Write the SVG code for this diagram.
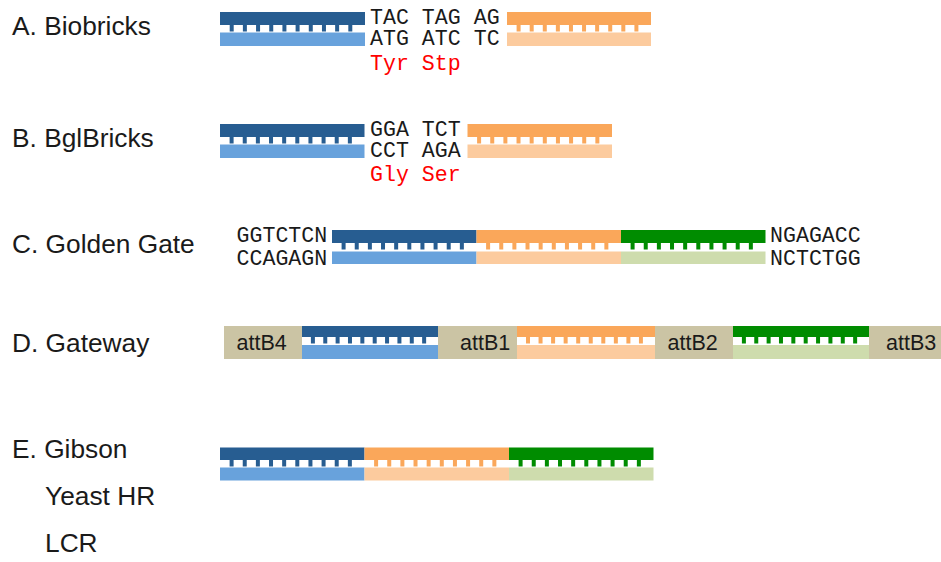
<svg xmlns="http://www.w3.org/2000/svg" width="941" height="562" viewBox="0 0 941 562">
  <style>
    .label { font-family: "Liberation Sans", Arial, Helvetica, sans-serif; font-size: 26.3px; fill: #1a1a1a; }
    .seq { font-family: "Liberation Mono", "Courier New", monospace; font-size: 21.6px; fill: #1a1a1a; }
    .aa { font-family: "Liberation Mono", "Courier New", monospace; font-size: 21.6px; fill: #ff0000; }
    .att { font-family: "Liberation Sans", Arial, Helvetica, sans-serif; font-size: 21.5px; fill: #1a1a1a; }
    .blue-top { fill: #275d91; }
    .blue-bot { fill: #68a2dc; }
    .orange-top { fill: #faa75a; }
    .orange-bot { fill: #fccb9e; }
    .green-top { fill: #008c00; }
    .green-bot { fill: #cedcad; }
    .site { fill: #cbc4a4; }
    .t-blue { stroke: #275d91; fill: none; stroke-width: 6.5px; }
    .t-orange { stroke: #faa75a; fill: none; stroke-width: 6.5px; }
    .t-green { stroke: #008c00; fill: none; stroke-width: 6.5px; }
  </style>

  <!-- Row labels -->
  <g id="labels">
    <text class="label" x="12" y="35">A. Biobricks</text>
    <text class="label" x="12" y="147">B. BglBricks</text>
    <text class="label" x="12" y="253">C. Golden Gate</text>
    <text class="label" x="12" y="352">D. Gateway</text>
    <text class="label" x="12" y="458">E. Gibson</text>
    <text class="label" x="45" y="505">Yeast HR</text>
    <text class="label" x="45" y="552">LCR</text>
  </g>

  <!-- A. BioBrick scar between two parts -->
  <g id="biobricks">
    <g id="a-part1">
      <rect class="blue-top" x="220" y="12" width="145" height="13"/>
      <line class="t-blue" x1="229.7" y1="28.2" x2="352.3" y2="28.2" stroke-dasharray="4 9.18"/>
      <rect class="blue-bot" x="220" y="32.5" width="145" height="13.5"/>
    </g>
    <g id="a-scar">
      <text class="seq" x="370" y="23.5">TAC TAG AG</text>
      <text class="seq" x="370" y="44.5">ATG ATC TC</text>
      <text class="aa" x="370" y="70">Tyr Stp</text>
    </g>
    <g id="a-part2">
      <rect class="orange-top" x="507" y="12" width="144" height="13"/>
      <line class="t-orange" x1="516.6" y1="28.2" x2="638.4" y2="28.2" stroke-dasharray="4 9.09"/>
      <rect class="orange-bot" x="507" y="32.5" width="144" height="13.5"/>
    </g>
  </g>

  <!-- B. BglBrick scar -->
  <g id="bglbricks">
    <g id="b-part1">
      <rect class="blue-top" x="220" y="124" width="144.5" height="13"/>
      <line class="t-blue" x1="229.6" y1="140.2" x2="351.9" y2="140.2" stroke-dasharray="4 9.14"/>
      <rect class="blue-bot" x="220" y="144.5" width="144.5" height="13.5"/>
    </g>
    <g id="b-scar">
      <text class="seq" x="370" y="135.5">GGA TCT</text>
      <text class="seq" x="370" y="157">CCT AGA</text>
      <text class="aa" x="370" y="181">Gly Ser</text>
    </g>
    <g id="b-part2">
      <rect class="orange-top" x="467.5" y="124" width="144.5" height="13"/>
      <line class="t-orange" x1="477.1" y1="140.2" x2="599.4" y2="140.2" stroke-dasharray="4 9.14"/>
      <rect class="orange-bot" x="467.5" y="144.5" width="144.5" height="13.5"/>
    </g>
  </g>

  <!-- C. Golden Gate assembly with flanking BsaI sites -->
  <g id="golden-gate">
    <g id="c-site-left">
      <text class="seq" x="236.5" y="242">GGTCTCN</text>
      <text class="seq" x="236.5" y="265">CCAGAGN</text>
    </g>
    <g id="c-part1">
      <rect class="blue-top" x="332" y="230" width="144.5" height="13"/>
      <line class="t-blue" x1="341.6" y1="246.2" x2="463.9" y2="246.2" stroke-dasharray="4 9.14"/>
      <rect class="blue-bot" x="332" y="251.5" width="144.5" height="12.5"/>
    </g>
    <g id="c-part2">
      <rect class="orange-top" x="476.5" y="230" width="144.5" height="13"/>
      <line class="t-orange" x1="486.1" y1="246.2" x2="608.4" y2="246.2" stroke-dasharray="4 9.14"/>
      <rect class="orange-bot" x="476.5" y="251.5" width="144.5" height="12.5"/>
    </g>
    <g id="c-part3">
      <rect class="green-top" x="621" y="230" width="144.5" height="13"/>
      <line class="t-green" x1="630.6" y1="246.2" x2="752.9" y2="246.2" stroke-dasharray="4 9.14"/>
      <rect class="green-bot" x="621" y="251.5" width="144.5" height="12.5"/>
    </g>
    <g id="c-site-right">
      <text class="seq" x="770" y="242">NGAGACC</text>
      <text class="seq" x="770" y="265">NCTCTGG</text>
    </g>
  </g>

  <!-- D. Gateway: parts separated by attB sites -->
  <g id="gateway">
    <g id="d-attB4">
      <rect class="site" x="224" y="326" width="78" height="33"/>
      <text class="att" x="236.5" y="350">attB4</text>
    </g>
    <g id="d-part1">
      <rect class="blue-top" x="302" y="326" width="136" height="11"/>
      <line class="t-blue" x1="310.9" y1="340.2" x2="426.2" y2="340.2" stroke-dasharray="4 8.36"/>
      <rect class="blue-bot" x="302" y="345" width="136" height="14"/>
    </g>
    <g id="d-attB1">
      <rect class="site" x="438" y="326" width="79" height="33"/>
      <text class="att" x="460" y="350">attB1</text>
    </g>
    <g id="d-part2">
      <rect class="orange-top" x="517" y="326" width="138" height="11"/>
      <line class="t-orange" x1="526" y1="340.2" x2="642.9" y2="340.2" stroke-dasharray="4 8.55"/>
      <rect class="orange-bot" x="517" y="345" width="138" height="14"/>
    </g>
    <g id="d-attB2">
      <rect class="site" x="655" y="326" width="78" height="33"/>
      <text class="att" x="667.5" y="350">attB2</text>
    </g>
    <g id="d-part3">
      <rect class="green-top" x="733" y="326" width="136" height="11"/>
      <line class="t-green" x1="741.9" y1="340.2" x2="857.2" y2="340.2" stroke-dasharray="4 8.36"/>
      <rect class="green-bot" x="733" y="345" width="136" height="14"/>
    </g>
    <g id="d-attB3">
      <rect class="site" x="869" y="326" width="72" height="33"/>
      <text class="att" x="886" y="350">attB3</text>
    </g>
  </g>

  <!-- E. Seamless assembly (Gibson / yeast HR / LCR) -->
  <g id="gibson">
    <g id="e-part1">
      <rect class="blue-top" x="220" y="447.5" width="144.5" height="12.5"/>
      <line class="t-blue" x1="229.6" y1="463.2" x2="351.9" y2="463.2" stroke-dasharray="4 9.14"/>
      <rect class="blue-bot" x="220" y="467.5" width="144.5" height="13"/>
    </g>
    <g id="e-part2">
      <rect class="orange-top" x="364.5" y="447.5" width="144.5" height="12.5"/>
      <line class="t-orange" x1="374.1" y1="463.2" x2="496.4" y2="463.2" stroke-dasharray="4 9.14"/>
      <rect class="orange-bot" x="364.5" y="467.5" width="144.5" height="13"/>
    </g>
    <g id="e-part3">
      <rect class="green-top" x="509" y="447.5" width="144.5" height="12.5"/>
      <line class="t-green" x1="518.6" y1="463.2" x2="640.9" y2="463.2" stroke-dasharray="4 9.14"/>
      <rect class="green-bot" x="509" y="467.5" width="144.5" height="13"/>
    </g>
  </g>
</svg>
